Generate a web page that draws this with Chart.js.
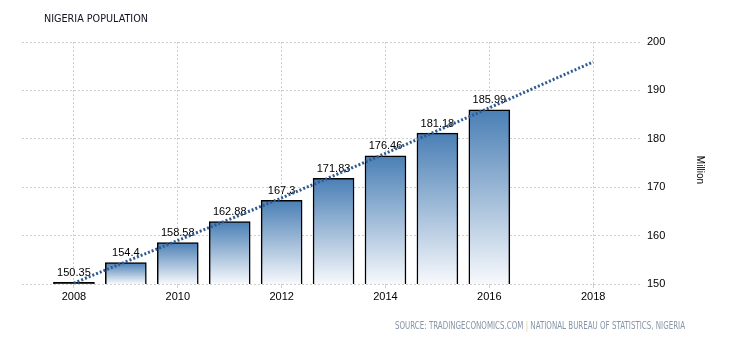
<!DOCTYPE html>
<html>
<head>
<meta charset="utf-8">
<script src="https://cdn.jsdelivr.net/npm/chart.js@4.4.1/dist/chart.umd.min.js"></script>
<style>
  body { margin: 0; background: #fff; }
  canvas { display: block; }
</style>
</head>
<body>
<canvas id="myChart" width="730" height="340"></canvas>
<script>
// population in million, one bar per year
const years = [2008, 2009, 2010, 2011, 2012, 2013, 2014, 2015, 2016];
const population = [150.35, 154.4, 158.58, 162.88, 167.3, 171.83, 176.46, 181.18, 185.99];

// dotted trend line (forecast)
const trendYears = [2008, 2010, 2012, 2014, 2016, 2018];
const trendValues = [150.2, 159.0, 167.8, 177.0, 186.4, 195.9];

const xTicks = [2008, 2010, 2012, 2014, 2016, 2018];
const yTicks = [150, 160, 170, 180, 190, 200];

const barTop = '#4a7fb5';
const barBottom = '#f7f9fc';

function barFill(c) {
    const chart = c.chart;
    if (!chart.chartArea || !chart.scales.y || !c.parsed) return barTop;
    const y = chart.scales.y;
    const top = y.getPixelForValue(c.parsed.y);
    const bottom = y.getPixelForValue(y.min);
    if (bottom - top < 2) return barTop;
    const g = chart.ctx.createLinearGradient(0, top, 0, bottom);
    g.addColorStop(0, barTop);
    g.addColorStop(1, barBottom);
    return g;
}

// draw a string squeezed to a given width
function fitText(ctx, text, x, y, width) {
    const w = ctx.measureText(text).width;
    ctx.save();
    ctx.translate(x, y);
    ctx.scale(width / w, 1);
    ctx.fillText(text, 0, 0);
    ctx.restore();
}

// numbers above the bars, drawn right after the bars so the trend line sits on top
const valueLabels = {
    id: 'valueLabels',
    afterDatasetDraw(chart, args) {
        if (args.index !== 1) return;
        const ctx = chart.ctx;
        const meta = args.meta;
        ctx.save();
        ctx.font = '11px "Liberation Sans", Arial, sans-serif';
        ctx.fillStyle = '#000';
        ctx.textAlign = 'center';
        ctx.textBaseline = 'bottom';
        meta.data.forEach((bar, i) => {
            ctx.fillText(String(population[i]), bar.x, bar.y - 4);
        });
        ctx.restore();
    }
};

const extraText = {
    id: 'extraText',
    afterDraw(chart) {
        const ctx = chart.ctx;
        ctx.save();
        ctx.textBaseline = 'alphabetic';
        ctx.textAlign = 'left';
        // title
        ctx.font = '11px "DejaVu Sans", sans-serif';
        ctx.fillStyle = '#111122';
        fitText(ctx, 'NIGERIA POPULATION', 44, 22, 104);

        // unit label on the right
        ctx.save();
        ctx.font = '10px "Liberation Sans", Arial, sans-serif';
        ctx.fillStyle = '#000';
        ctx.translate(697, 170);
        ctx.rotate(Math.PI / 2);
        ctx.textAlign = 'center';
        ctx.fillText('Million', 0, 0);
        ctx.restore();

        // source line
        ctx.font = '10px "DejaVu Sans", sans-serif';
        const a = 'SOURCE: TRADINGECONOMICS.COM';
        const b = ' | ';
        const c = 'NATIONAL BUREAU OF STATISTICS, NIGERIA';
        const total = ctx.measureText(a + b + c).width;
        const k = 290 / total;
        let x = 395;
        ctx.fillStyle = '#8794a6';
        fitText(ctx, a, x, 329, ctx.measureText(a).width * k);
        x += ctx.measureText(a).width * k;
        ctx.fillStyle = '#e8c8a0';
        fitText(ctx, b, x, 329, ctx.measureText(b).width * k);
        x += ctx.measureText(b).width * k;
        ctx.fillStyle = '#8794a6';
        fitText(ctx, c, x, 329, ctx.measureText(c).width * k);
        ctx.restore();
    }
};

const ctx = document.getElementById('myChart');
new Chart(ctx, {
    type: 'bar',
    data: {
        datasets: [
            {
                type: 'line',
                label: 'Trend',
                data: trendYears.map((y, i) => ({ x: y, y: trendValues[i] })),
                borderColor: '#2e5a91',
                borderWidth: 3,
                borderDash: [2, 2],
                pointRadius: 0,
                tension: 0.3,
                fill: false,
                order: 0
            },
            {
                label: 'Population',
                data: years.map((y, i) => ({ x: y, y: population[i] })),
                backgroundColor: barFill,
                borderColor: '#000',
                borderWidth: 1.5,
                borderSkipped: false,
                barThickness: 41,
                order: 1
            }
        ]
    },
    options: {
        responsive: false,
        animation: false,
        layout: {
            padding: { left: 22, top: 42, right: 0, bottom: 36 }
        },
        plugins: {
            legend: { display: false },
            tooltip: { enabled: false }
        },
        scales: {
            x: {
                type: 'linear',
                min: 2007,
                max: 2018.94,
                offset: false,
                grid: { offset: false, color: '#cfcfcf', tickLength: 4, lineWidth: 1 },
                border: { display: false, dash: [2, 2] },
                afterBuildTicks: (scale) => {
                    scale.ticks = xTicks.map(v => ({ value: v }));
                },
                afterFit: (scale) => { scale.height = 20; },
                ticks: {
                    padding: 2,
                    maxRotation: 0,
                    color: '#000',
                    font: { family: '"Liberation Sans", Arial, sans-serif', size: 11 },
                    callback: (v) => String(v)
                }
            },
            y: {
                position: 'right',
                min: 150,
                max: 200,
                afterBuildTicks: (scale) => {
                    scale.ticks = yTicks.map(v => ({ value: v }));
                },
                afterFit: (scale) => { scale.width = 88; },
                grid: { color: '#cfcfcf', drawTicks: false, lineWidth: 1 },
                border: { display: false, dash: [2, 2] },
                ticks: {
                    padding: 5,
                    color: '#000',
                    font: { family: '"Liberation Sans", Arial, sans-serif', size: 11 }
                }
            }
        }
    },
    plugins: [valueLabels, extraText]
});
</script>
</body>
</html>
